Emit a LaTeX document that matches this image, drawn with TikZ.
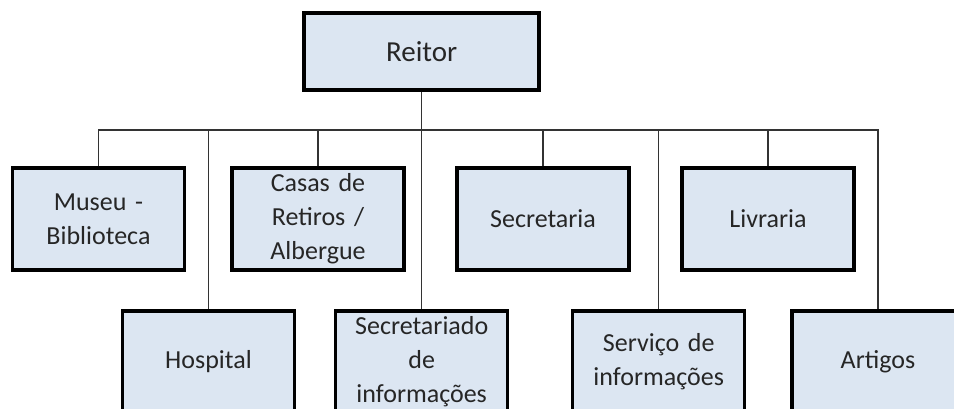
\documentclass[tikz,border=0pt]{standalone}
\usepackage{fontspec}
\setmainfont{Carlito}
\usepackage{tikz}
\usetikzlibrary{calc, positioning}

\definecolor{boxfill}{HTML}{DCE6F2}

\begin{document}
\begin{tikzpicture}[x=1pt,y=-1pt]
\tikzstyle{unit}=[rectangle,draw=black,line width=3.5pt,fill=boxfill,minimum width=172pt,minimum height=102pt,inner sep=2pt,text width=166pt,align=center,text=black!85,font=\fontsize{26}{34}\selectfont]
\tikzstyle{head}=[unit,minimum width=235pt,minimum height=77pt,font=\fontsize{29}{35}\selectfont]
\tikzstyle{link}=[draw=black!80,line width=1.5pt]
\useasboundingbox (0,0) rectangle (954,408);
\clip (0,0) rectangle (954,408);
% top
\node[head] (Reitor) at (421.7,51.5) {Reitor};
\coordinate (bus) at (421.7,130);
% first row
\node[unit] (Museu) at (98.5,219) {Museu -\\Biblioteca};
\node[unit] (Casas) at (318,219) {Casas de\\Retiros /\\Albergue};
\node[unit] (Secretaria) at (543,219) {Secretaria};
\node[unit] (Livraria) at (768,219) {Livraria};
% second row
\node[unit] (Hospital) at (208.5,362) {Hospital};
\node[unit] (Secretariado) at (421.7,362) {Secretariado\\de\\informações};
\node[unit] (Servico) at (658.7,362) {Serviço de\\informações};
\node[unit] (Artigos) at (878,362) {Artigos};
% connectors
\begin{scope}[on background layer/.try]
\foreach \n in {Museu,Hospital,Casas,Secretaria,Livraria,Servico,Artigos}
  \draw[link] (\n.north) |- (bus);
\draw[link] (Reitor) -- (Secretariado);
\end{scope}
\end{tikzpicture}
\end{document}
